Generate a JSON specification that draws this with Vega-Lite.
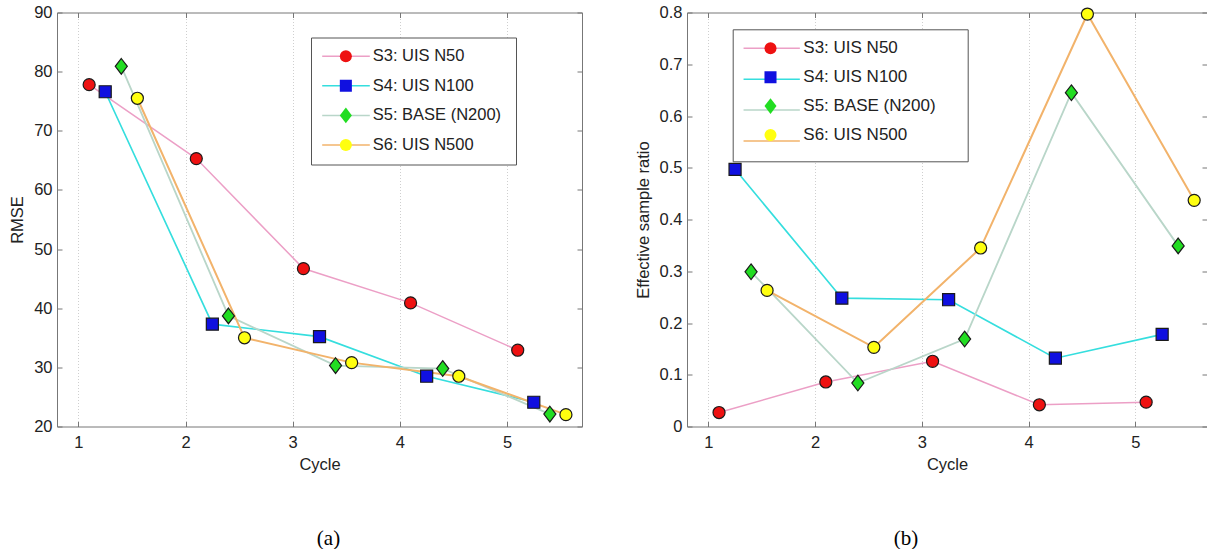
{
  "$schema": "https://vega.github.io/schema/vega-lite/v6.json",
  "padding": {"left": 9, "top": 4.5, "right": 0, "bottom": 0},
  "spacing": 52,
  "config": {
    "view": {"stroke": null},
    "font": "Liberation Sans",
    "axis": {"domainColor": "#777777", "tickColor": "#777777", "labelColor": "#222222", "titleColor": "#222222", "labelFont": "Liberation Sans", "titleFont": "Liberation Sans", "titleFontWeight": "normal"}
  },
  "datasets": {
    "rmse": [
      {"series": "S3: UIS N50", "cycle": 1.1, "value": 77.8},
      {"series": "S3: UIS N50", "cycle": 2.1, "value": 65.3},
      {"series": "S3: UIS N50", "cycle": 3.1, "value": 46.7},
      {"series": "S3: UIS N50", "cycle": 4.1, "value": 40.9},
      {"series": "S3: UIS N50", "cycle": 5.1, "value": 32.9},
      {"series": "S4: UIS N100", "cycle": 1.25, "value": 76.6},
      {"series": "S4: UIS N100", "cycle": 2.25, "value": 37.3},
      {"series": "S4: UIS N100", "cycle": 3.25, "value": 35.2},
      {"series": "S4: UIS N100", "cycle": 4.25, "value": 28.5},
      {"series": "S4: UIS N100", "cycle": 5.25, "value": 24.1},
      {"series": "S5: BASE (N200)", "cycle": 1.4, "value": 80.9},
      {"series": "S5: BASE (N200)", "cycle": 2.4, "value": 38.7},
      {"series": "S5: BASE (N200)", "cycle": 3.4, "value": 30.3},
      {"series": "S5: BASE (N200)", "cycle": 4.4, "value": 29.8},
      {"series": "S5: BASE (N200)", "cycle": 5.4, "value": 22.1},
      {"series": "S6: UIS N500", "cycle": 1.55, "value": 75.5},
      {"series": "S6: UIS N500", "cycle": 2.55, "value": 35.0},
      {"series": "S6: UIS N500", "cycle": 3.55, "value": 30.8},
      {"series": "S6: UIS N500", "cycle": 4.55, "value": 28.5},
      {"series": "S6: UIS N500", "cycle": 5.55, "value": 22.0}
    ],
    "esr": [
      {"series": "S3: UIS N50", "cycle": 1.1, "value": 0.027},
      {"series": "S3: UIS N50", "cycle": 2.1, "value": 0.086},
      {"series": "S3: UIS N50", "cycle": 3.1, "value": 0.126},
      {"series": "S3: UIS N50", "cycle": 4.1, "value": 0.042},
      {"series": "S3: UIS N50", "cycle": 5.1, "value": 0.047},
      {"series": "S4: UIS N100", "cycle": 1.25, "value": 0.497},
      {"series": "S4: UIS N100", "cycle": 2.25, "value": 0.248},
      {"series": "S4: UIS N100", "cycle": 3.25, "value": 0.245},
      {"series": "S4: UIS N100", "cycle": 4.25, "value": 0.132},
      {"series": "S4: UIS N100", "cycle": 5.25, "value": 0.178},
      {"series": "S5: BASE (N200)", "cycle": 1.4, "value": 0.299},
      {"series": "S5: BASE (N200)", "cycle": 2.4, "value": 0.084},
      {"series": "S5: BASE (N200)", "cycle": 3.4, "value": 0.169},
      {"series": "S5: BASE (N200)", "cycle": 4.4, "value": 0.645},
      {"series": "S5: BASE (N200)", "cycle": 5.4, "value": 0.349},
      {"series": "S6: UIS N500", "cycle": 1.55, "value": 0.263},
      {"series": "S6: UIS N500", "cycle": 2.55, "value": 0.153},
      {"series": "S6: UIS N500", "cycle": 3.55, "value": 0.345},
      {"series": "S6: UIS N500", "cycle": 4.55, "value": 0.797},
      {"series": "S6: UIS N500", "cycle": 5.55, "value": 0.437}
    ]
  },
  "hconcat": [
    {
      "width": 525,
      "height": 414,
      "data": {"name": "rmse"},
      "title": {"text": "(a)", "orient": "bottom", "anchor": "middle", "dx": 9, "offset": 55, "font": "Liberation Serif", "fontSize": 21, "fontWeight": "normal", "color": "#000000"},
      "layer": [
        {
          "mark": {"type": "line"},
          "encoding": {
            "x": {"field": "cycle", "type": "quantitative", "scale": {"domain": [0.8, 5.7], "nice": false, "zero": false},
              "axis": {"orient": "bottom", "values": [1, 2, 3, 4, 5], "title": "Cycle", "grid": true, "gridColor": "#cfcfcf", "gridDash": [1, 2], "tickSize": -5, "labelPadding": 13, "labelFontSize": 16.5, "labelFlush": false, "titleFontSize": 16.5, "titlePadding": 5}},
            "y": {"field": "value", "type": "quantitative", "scale": {"domain": [20, 90], "nice": false, "zero": false},
              "axis": {"orient": "left", "values": [20, 30, 40, 50, 60, 70, 80, 90], "title": "RMSE", "grid": false, "tickSize": -5, "labelPadding": 10, "labelFontSize": 16.5, "titleFontSize": 16.5, "titlePadding": 8}},
            "color": {"field": "series", "type": "nominal",
              "scale": {"domain": ["S3: UIS N50", "S4: UIS N100", "S5: BASE (N200)", "S6: UIS N500"], "range": ["#ec9fc6", "#35dede", "#b9d6c9", "#f2b36b"]},
              "legend": {"orient": "none", "legendX": 254, "legendY": 25, "title": null, "padding": 10, "symbolType": "stroke", "symbolSize": 2266, "symbolStrokeWidth": 1.5, "symbolOffset": 0, "labelOffset": 5, "labelFontSize": 16.7, "labelOpacity": 0, "clipHeight": 17.4, "rowPadding": 11.6, "fillColor": "white", "strokeColor": "#555555", "cornerRadius": 0}},
            "strokeWidth": {"field": "series", "type": "nominal", "scale": {"range": [1.5, 2, 1.5, 1.5]}, "legend": null}
          }
        },
        {
          "mark": {"type": "point", "filled": true, "stroke": "#1a1a1a", "strokeWidth": 1.2, "size": 145, "opacity": 1},
          "encoding": {
            "x": {"field": "cycle", "type": "quantitative", "scale": {"domain": [0.8, 5.7], "nice": false, "zero": false},
              "axis": {"orient": "top", "values": [1, 2, 3, 4, 5], "labels": false, "title": null, "grid": false, "tickSize": -5}},
            "y": {"field": "value", "type": "quantitative", "scale": {"domain": [20, 90], "nice": false, "zero": false},
              "axis": {"orient": "right", "values": [20, 30, 40, 50, 60, 70, 80, 90], "labels": false, "title": null, "grid": false, "tickSize": -5}},
            "shape": {"field": "series", "type": "nominal", "scale": {"range": ["circle", "square", "M0,-1.3L1,0L0,1.3L-1,0Z", "circle"]},
              "legend": {"orient": "none", "legendX": 254, "legendY": 25, "title": null, "padding": 10, "symbolSize": 145, "symbolStrokeColor": "#000000", "symbolStrokeWidth": 1.3, "symbolOffset": 16.6, "labelOffset": 18.6, "labelFontSize": 16.5, "labelColor": "#222222", "clipHeight": 17.4, "rowPadding": 11.6,
                "encode": {"symbols": {"enter": {"stroke": {"value": "#000000"}, "strokeWidth": {"value": 1.3}}, "update": {"stroke": {"value": "#000000"}, "strokeWidth": {"value": 1.3}, "strokeOpacity": {"value": 1}}}}}},
            "fill": {"field": "series", "type": "nominal", "scale": {"range": ["#ee1111", "#1010e0", "#22dd22", "#ffff10"]},
              "legend": {"orient": "none", "legendX": 254, "legendY": 25, "title": null, "padding": 10, "symbolSize": 145, "symbolStrokeColor": "#000000", "symbolStrokeWidth": 1.3, "symbolOffset": 16.6, "labelOffset": 18.6, "labelFontSize": 16.5, "labelColor": "#222222", "clipHeight": 17.4, "rowPadding": 11.6,
                "encode": {"symbols": {"enter": {"stroke": {"value": "#000000"}, "strokeWidth": {"value": 1.3}}, "update": {"stroke": {"value": "#000000"}, "strokeWidth": {"value": 1.3}, "strokeOpacity": {"value": 1}}}}}}
          }
        }
      ],
      "resolve": {"axis": {"x": "independent", "y": "independent"}}
    },
    {
      "width": 520,
      "height": 414,
      "data": {"name": "esr"},
      "title": {"text": "(b)", "orient": "bottom", "anchor": "middle", "dx": -41, "offset": 55, "font": "Liberation Serif", "fontSize": 21, "fontWeight": "normal", "color": "#000000"},
      "layer": [
        {
          "mark": {"type": "line"},
          "encoding": {
            "x": {"field": "cycle", "type": "quantitative", "scale": {"domain": [0.8, 5.67], "nice": false, "zero": false},
              "axis": {"orient": "bottom", "values": [1, 2, 3, 4, 5], "title": "Cycle", "grid": true, "gridColor": "#cfcfcf", "gridDash": [1, 2], "tickSize": -5, "labelPadding": 13, "labelFontSize": 16.5, "labelFlush": false, "titleFontSize": 16.5, "titlePadding": 5}},
            "y": {"field": "value", "type": "quantitative", "scale": {"domain": [0, 0.8], "nice": false, "zero": false},
              "axis": {"orient": "left", "values": [0, 0.1, 0.2, 0.3, 0.4, 0.5, 0.6, 0.7, 0.8], "format": "~g", "title": "Effective sample ratio", "grid": false, "tickSize": -5, "labelPadding": 10, "labelFontSize": 16.5, "titleFontSize": 16.5, "titlePadding": 8}},
            "color": {"field": "series", "type": "nominal",
              "scale": {"domain": ["S3: UIS N50", "S4: UIS N100", "S5: BASE (N200)", "S6: UIS N500"], "range": ["#ec9fc6", "#35dede", "#b9d6c9", "#f2b36b"]},
              "legend": {"orient": "none", "legendX": 45.7, "legendY": 16.8, "title": null, "padding": 10, "symbolType": "stroke", "symbolSize": 3170, "symbolStrokeWidth": 1.5, "symbolOffset": 0, "labelOffset": 5, "labelFontSize": 19.5, "labelOpacity": 0, "clipHeight": 18, "rowPadding": 10.9, "fillColor": "white", "strokeColor": "#555555", "cornerRadius": 0}},
            "strokeWidth": {"field": "series", "type": "nominal", "scale": {"range": [1.5, 2, 1.5, 1.5]}, "legend": null}
          }
        },
        {
          "mark": {"type": "point", "filled": true, "stroke": "#1a1a1a", "strokeWidth": 1.2, "size": 145, "opacity": 1},
          "encoding": {
            "x": {"field": "cycle", "type": "quantitative", "scale": {"domain": [0.8, 5.67], "nice": false, "zero": false},
              "axis": {"orient": "top", "values": [1, 2, 3, 4, 5], "labels": false, "title": null, "grid": false, "tickSize": -5}},
            "y": {"field": "value", "type": "quantitative", "scale": {"domain": [0, 0.8], "nice": false, "zero": false},
              "axis": {"orient": "right", "values": [0, 0.1, 0.2, 0.3, 0.4, 0.5, 0.6, 0.7, 0.8], "labels": false, "title": null, "grid": false, "domain": false, "tickSize": -5}},
            "shape": {"field": "series", "type": "nominal", "scale": {"range": ["circle", "square", "M0,-1.3L1,0L0,1.3L-1,0Z", "circle"]},
              "legend": {"orient": "none", "legendX": 45.7, "legendY": 16.8, "title": null, "padding": 10, "symbolSize": 145, "symbolStrokeColor": "#000000", "symbolStrokeWidth": 1.3, "symbolOffset": 19.3, "labelOffset": 24.3, "labelFontSize": 17, "labelColor": "#222222", "clipHeight": 18, "rowPadding": 10.9,
                "encode": {"symbols": {"enter": {"stroke": {"value": "#000000"}, "strokeWidth": {"value": 1.3}}, "update": {"stroke": {"value": "#000000"}, "strokeWidth": {"value": 1.3}, "strokeOpacity": {"value": 1}}}}}},
            "fill": {"field": "series", "type": "nominal", "scale": {"range": ["#ee1111", "#1010e0", "#22dd22", "#ffff10"]},
              "legend": {"orient": "none", "legendX": 45.7, "legendY": 16.8, "title": null, "padding": 10, "symbolSize": 145, "symbolStrokeColor": "#000000", "symbolStrokeWidth": 1.3, "symbolOffset": 19.3, "labelOffset": 24.3, "labelFontSize": 17, "labelColor": "#222222", "clipHeight": 18, "rowPadding": 10.9,
                "encode": {"symbols": {"enter": {"stroke": {"value": "#000000"}, "strokeWidth": {"value": 1.3}}, "update": {"stroke": {"value": "#000000"}, "strokeWidth": {"value": 1.3}, "strokeOpacity": {"value": 1}}}}}}
          }
        }
      ],
      "resolve": {"axis": {"x": "independent", "y": "independent"}}
    }
  ],
  "resolve": {
    "scale": {"x": "independent", "y": "independent", "color": "independent", "fill": "independent", "shape": "independent", "strokeWidth": "independent"},
    "legend": {"color": "independent", "fill": "independent", "shape": "independent"}
  }
}
